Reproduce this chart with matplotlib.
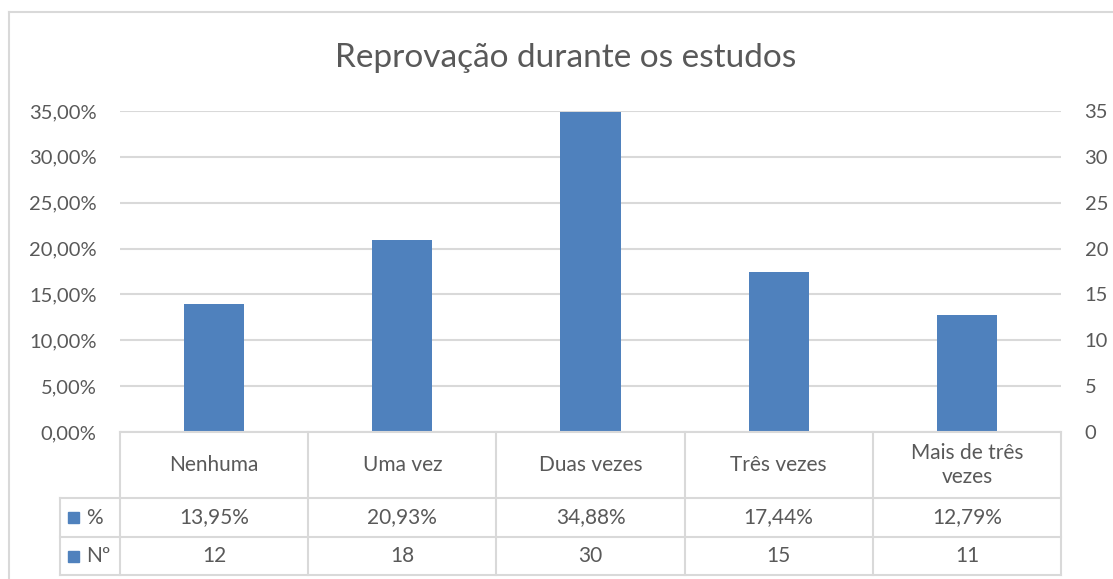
import numpy as np
import matplotlib.pyplot as plt
from matplotlib.lines import Line2D
from matplotlib.patches import Rectangle
from matplotlib.ticker import FuncFormatter, MultipleLocator

plt.rcParams['font.family'] = ['Lato', 'DejaVu Sans']

categories = ["Nenhuma", "Uma vez", "Duas vezes", "Três vezes", "Mais de três\nvezes"]
pct = [13.95, 20.93, 34.88, 17.44, 12.79]
num = [12, 18, 30, 15, 11]
pct_labels = ["13,95%", "20,93%", "34,88%", "17,44%", "12,79%"]

W, H = 1113, 579
BLUE = "#4F81BD"
GRID = "#D9D9D9"
TXT = "#595959"

fig = plt.figure(figsize=(W / 100, H / 100), dpi=100)

def px_rect(x0, y0, x1, y1):
    return [x0 / W, 1 - y1 / H, (x1 - x0) / W, (y1 - y0) / H]

# outer chart border (top and left visible)
fig.add_artist(Line2D([9 / W, 1], [1 - 12 / H, 1 - 12 / H], color=GRID, lw=1.5))
fig.add_artist(Line2D([9 / W, 9 / W], [0, 1 - 12 / H], color=GRID, lw=1.5))

x = np.arange(len(categories))
ax = fig.add_axes(px_rect(120, 111, 1061, 432))
ax.bar(x, [p / 100 for p in pct], width=0.32, color=BLUE, zorder=3)
ax.set_xlim(-0.5, 4.5)
ax.set_ylim(0, 0.35)
ax.yaxis.set_major_locator(MultipleLocator(0.05))
ax.yaxis.set_major_formatter(FuncFormatter(lambda v, _: f"{v * 100:.2f}%".replace(".", ",")))
ax.grid(axis="y", color=GRID, lw=1.5, zorder=0)
ax.set_xticks([])
for s in ax.spines.values():
    s.set_visible(False)
ax.tick_params(axis="y", length=0, pad=17, labelsize=14.5, labelcolor=TXT)

ax2 = ax.twinx()
ax2.bar(x, num, width=0.32, color=BLUE, zorder=3)
ax2.set_ylim(0, 35)
ax2.yaxis.set_major_locator(MultipleLocator(5))
for s in ax2.spines.values():
    s.set_visible(False)
ax2.tick_params(axis="y", length=0, pad=17, labelsize=14.5, labelcolor=TXT)

# data table below the plot
col_w = 941 / 5
xl = -0.5 - 60 / col_w
tb = fig.add_axes(px_rect(60, 432, 1061, 575))
tb.set_xlim(xl, 4.5)
tb.set_ylim(143, 0)
tb.axis("off")
lk = dict(color=GRID, lw=1.5, clip_on=False)
tb.plot([-0.5, 4.5], [0, 0], **lk)
for yy in (66, 105, 143):
    tb.plot([xl, 4.5], [yy, yy], **lk)
tb.plot([xl, xl], [66, 143], **lk)
for xx in np.arange(-0.5, 5, 1):
    tb.plot([xx, xx], [0, 143], **lk)

fs = 15
for i, c in enumerate(categories):
    tb.text(i, 33, c, ha="center", va="center", fontsize=fs, color=TXT, linespacing=1.25)
    tb.text(i, 85.5, pct_labels[i], ha="center", va="center", fontsize=fs, color=TXT)
    tb.text(i, 124, str(num[i]), ha="center", va="center", fontsize=fs, color=TXT)

for yc, lab in ((85.5, "%"), (124, "Nº")):
    tb.add_patch(Rectangle((xl + 8 / col_w, yc - 5.5), 11 / col_w, 11, color=BLUE, clip_on=False))
    tb.text(xl + 26 / col_w, yc, lab, ha="left", va="center", fontsize=fs, color=TXT)

fig.text(566 / W, 1 - 58 / H, "Reprovação durante os estudos", ha="center", va="center",
         fontsize=24, color=TXT)

fig.savefig("out.png", dpi=100)
